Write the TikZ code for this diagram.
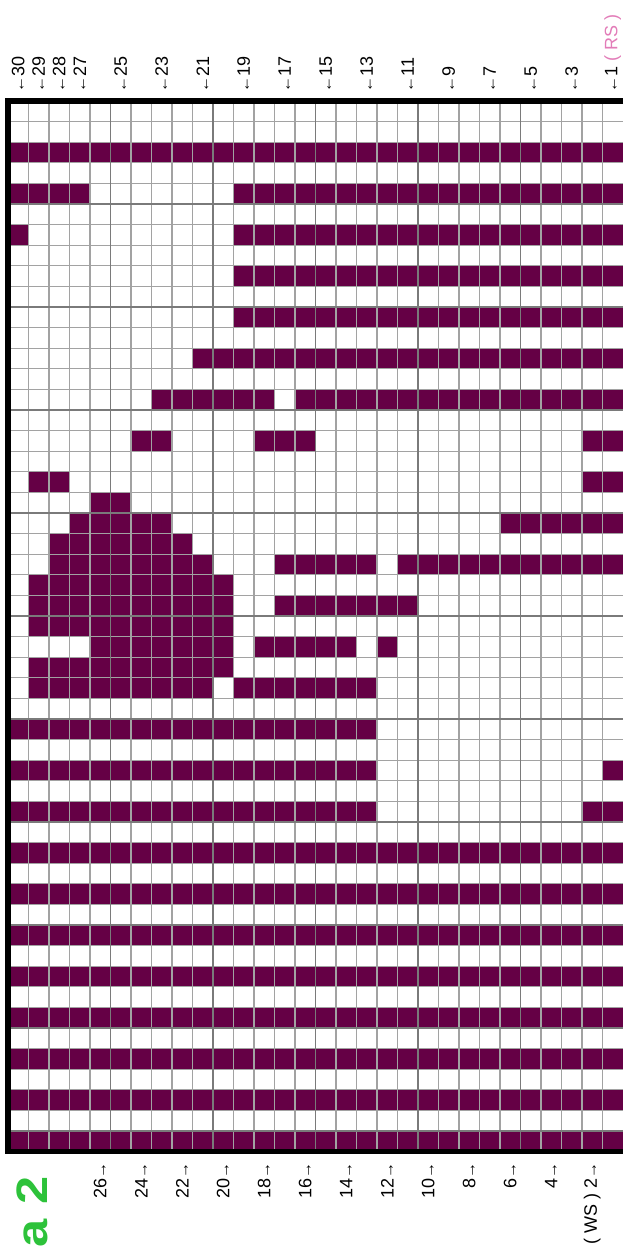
\documentclass[tikz,border=0pt]{standalone}
\usepackage{fontspec}
\setmainfont{Liberation Sans}
\usepackage{xcolor}
\definecolor{yarn}{HTML}{650045}
\definecolor{gridline}{HTML}{A2A2A2}
\definecolor{gridfive}{HTML}{7A7A7A}
\definecolor{rsmark}{HTML}{E27CB8}
\definecolor{chartgreen}{HTML}{2DC23A}
\newcommand{\rowarrow}[1]{{\fontsize{8}{9}\selectfont #1}}

\begin{document}
\begin{tikzpicture}[x=10.25pt, y=-10.3pt,
  rowlab/.style={rotate=90, font=\fontsize{9}{10}\selectfont, inner sep=0pt}]
  \useasboundingbox (-0.3902,-4.903) rectangle (30,55.92);
  \foreach \r/\segs in {2/{0/29}, 4/{0/3,11/29}, 6/{0/0,11/29}, 8/{11/29},
      10/{11/29}, 12/{9/29}, 14/{7/12,14/29}, 16/{6/7,12/14,28/29},
      18/{1/2,28/29}, 19/{4/5}, 20/{3/7,24/29}, 21/{2/8},
      22/{2/9,13/17,19/29}, 23/{1/10}, 24/{1/10,13/19}, 25/{1/10},
      26/{4/10,12/16,18/18}, 27/{1/10}, 28/{1/9,11/17}, 30/{0/17},
      32/{0/17,29/29}, 34/{0/17,28/29}}
    \foreach \a/\b in \segs
      \fill[yarn] (\a,\r) rectangle (\b+1,\r+1);
  \foreach \r in {36,38,...,50}
    \fill[yarn] (0,\r) rectangle (30,\r+1);
  \foreach \c in {1,...,29}
    \draw[gridline, line width=0.6pt] (\c,0) -- (\c,51);
  \foreach \r in {1,...,50}
    \draw[gridline, line width=0.6pt] (0,\r) -- (30,\r);
  \foreach \c in {5,10,...,25}
    \draw[gridfive, line width=0.9pt] (\c,0) -- (\c,51);
  \foreach \r in {5,10,...,50}
    \draw[gridfive, line width=0.9pt] (0,\r) -- (30,\r);
  \draw[line width=2.6pt] (30,0) -- (0,0) -- (0,51) -- (30,51);
  \foreach \n in {3,5,...,25,27,28,29,30}
    \node[rowlab, anchor=west] (rs\n) at (30.5-\n,-0.4) {\rowarrow{←}\n};
  \node[rowlab, anchor=west] (rs1) at (29.5,-0.4)
    {\rowarrow{←}1 \textcolor{rsmark}{( RS )}};
  \foreach \n in {4,6,...,26}
    \node[rowlab, anchor=east] (ws\n) at (30.5-\n,51.5) {\n\rowarrow{→}};
  \node[rowlab, anchor=east] (ws2) at (28.5,51.5) {( WS ) 2\rowarrow{→}};
  \node[rotate=90, anchor=east, inner sep=0pt, text=chartgreen,
    font=\bfseries\fontsize{22}{22}\selectfont] (title) at (1.17,52.2)
    {\scalebox{1.15}[1]{a 2}};
\end{tikzpicture}
\end{document}
